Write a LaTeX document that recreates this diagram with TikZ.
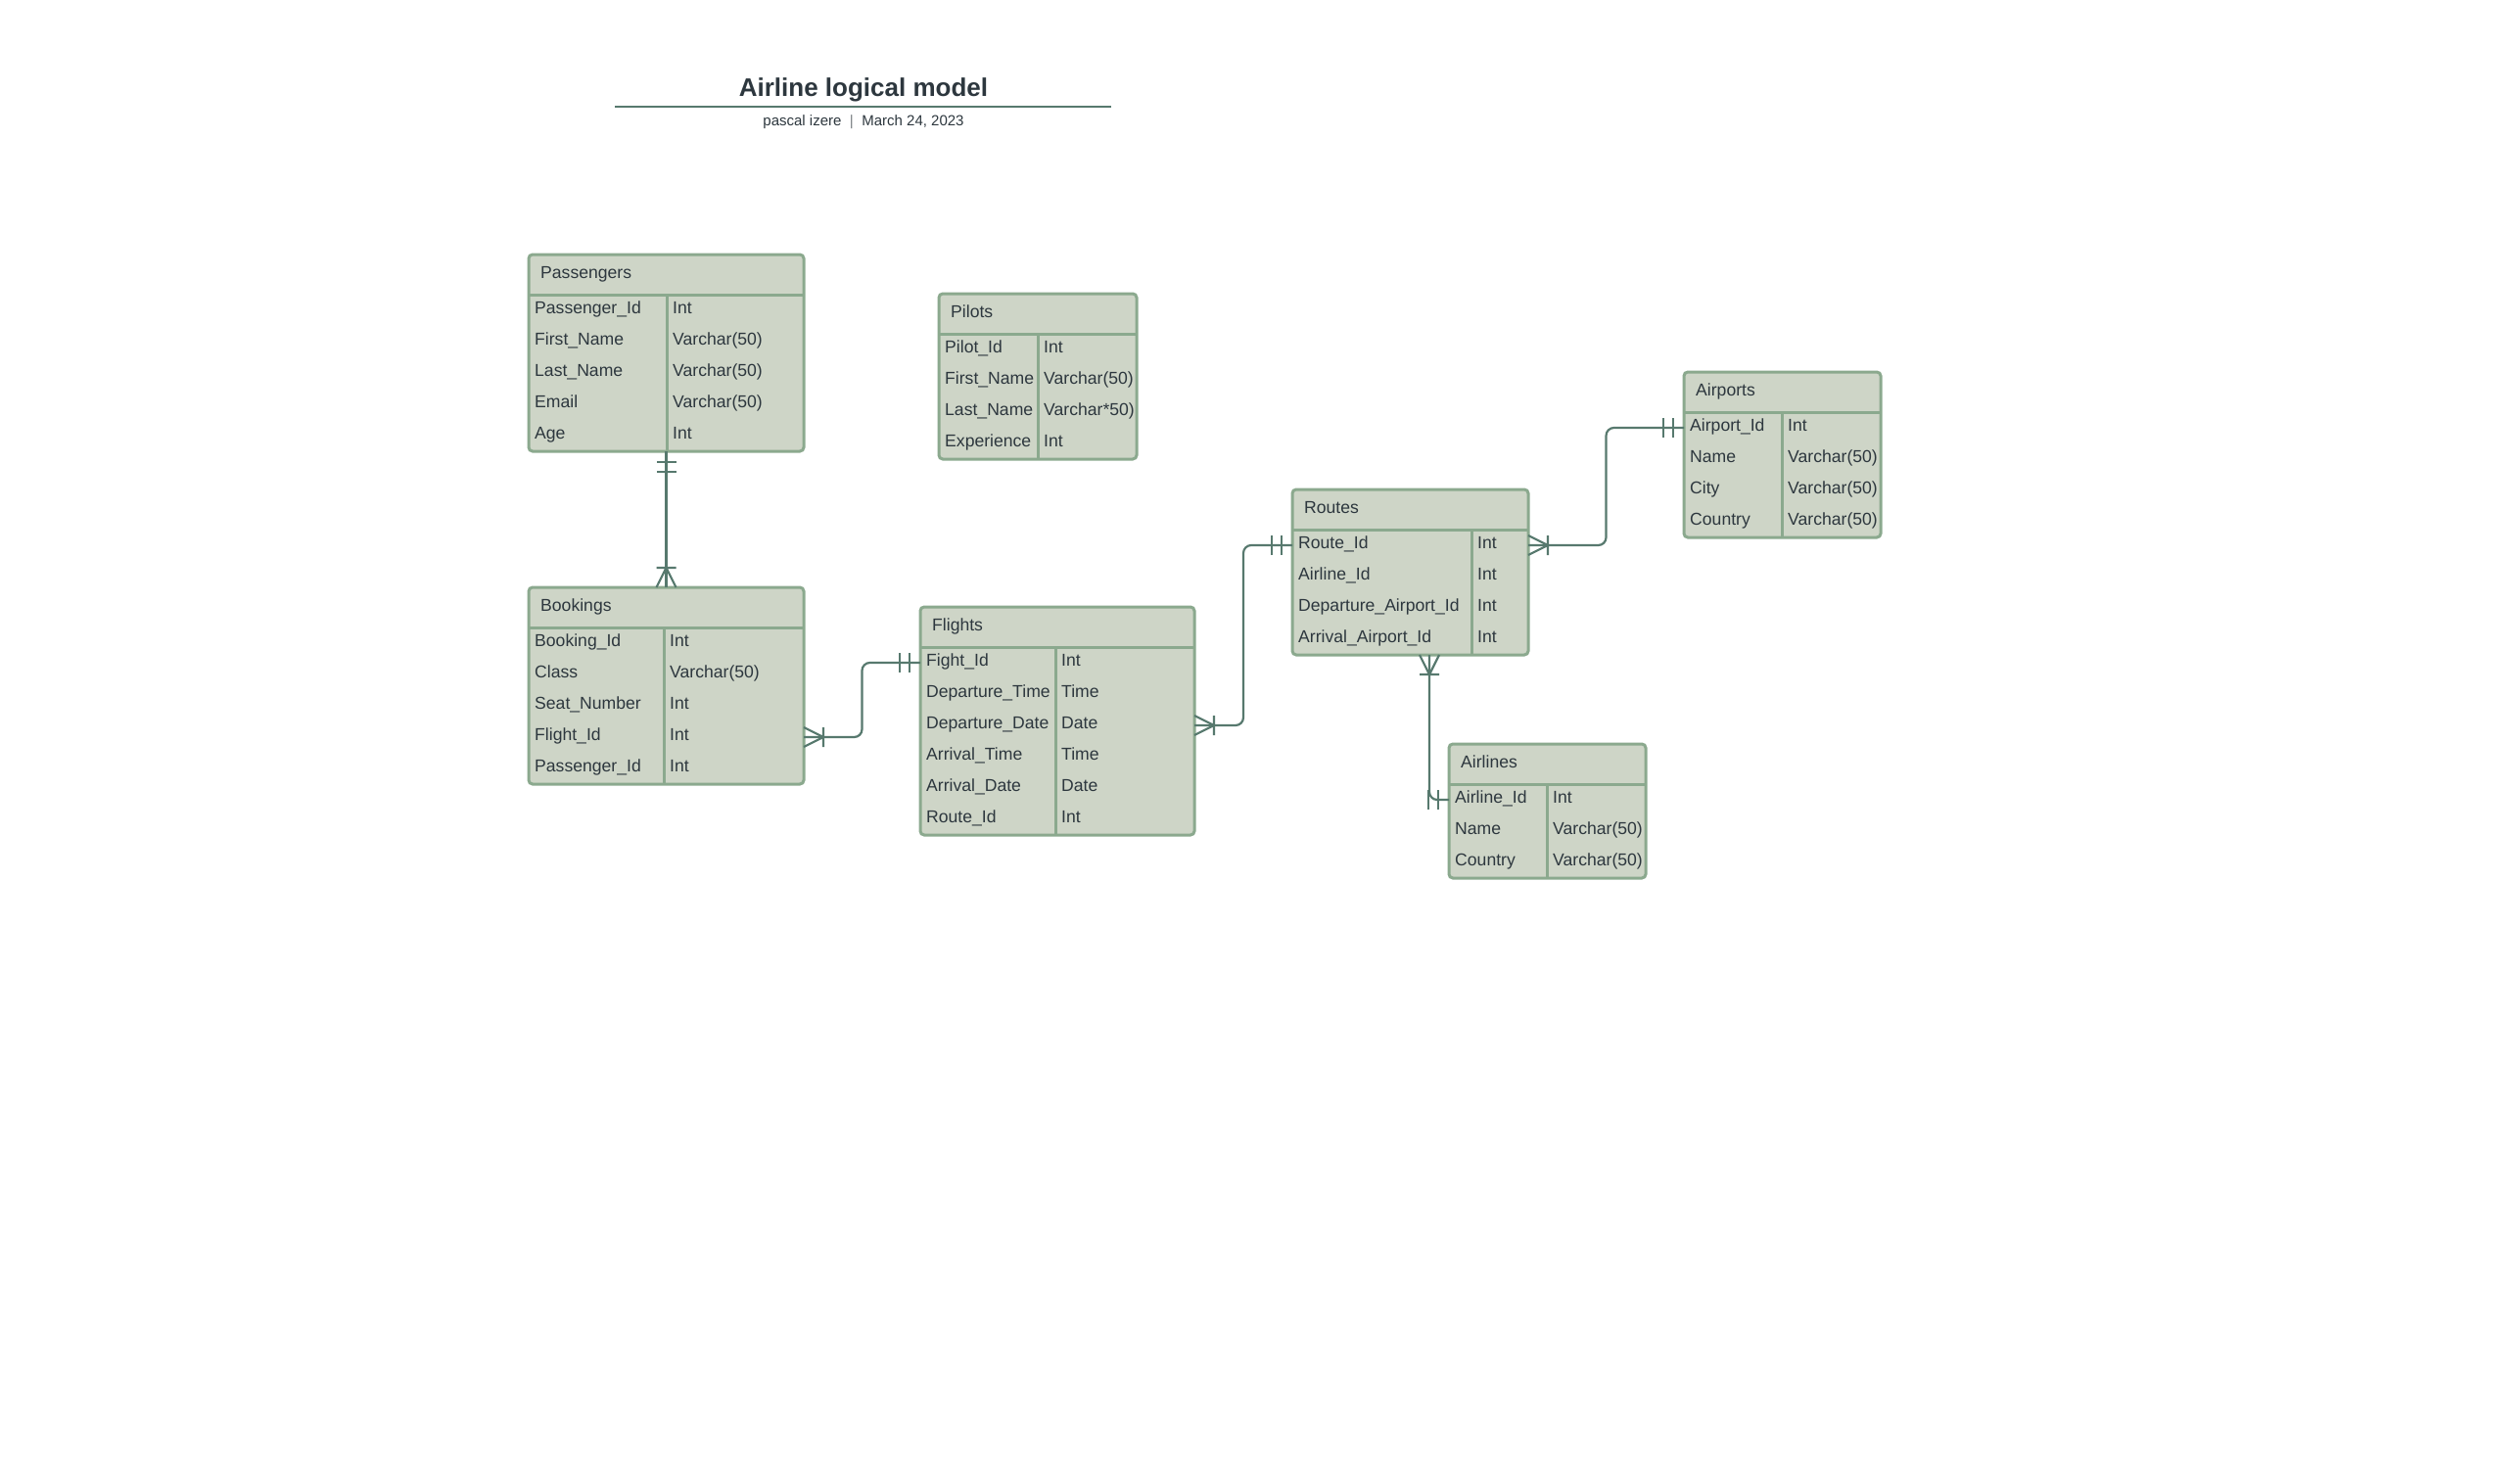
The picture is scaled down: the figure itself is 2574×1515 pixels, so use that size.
\documentclass[tikz,border=0pt]{standalone}
\usepackage{fontspec}
\setmainfont{Liberation Sans}
\usetikzlibrary{calc}

\definecolor{erfill}{HTML}{CED5C7}
\definecolor{erborder}{HTML}{8BA98E}
\definecolor{erlink}{HTML}{57796E}
\definecolor{ertext}{HTML}{2D373E}
\definecolor{sepgrey}{HTML}{7A7F82}

\tikzset{
  erbox/.style={draw=erborder, fill=erfill, line width=3pt, rounded corners=4pt,
                inner sep=0pt, outer sep=0pt},
  erline/.style={draw=erborder, line width=3pt},
  ertxt/.style={inner sep=0pt, text=ertext, font=\fontsize{17.6}{21}\selectfont},
  conn/.style={draw=erlink, line width=2.2pt},
  link/.style={conn, rounded corners=8pt},
  % two bars: exactly one
  pics/onlyone/.style={code={\draw[conn] (11,-10) -- (11,10) (21,-10) -- (21,10);}},
  % crow's foot with bar: one or many
  pics/manyone/.style={code={\draw[conn] (0,-10) -- (20,0) -- (0,10) (20,-10) -- (20,10);}},
}

% #1 id, #2 left, #3 top, #4 width, #5 key column width, #6 rows, #7 title, #8 key/type list
\newcommand\ertable[8]{%
  \pgfmathsetmacro\erh{41+32*#6}%
  \node[erbox, minimum width=#4pt, minimum height=\erh pt, anchor=north west] (#1) at (#2,#3) {};
  \draw[erline] ($(#1.north west)+(0,41)$) -- ($(#1.north east)+(0,41)$);
  \draw[erline] ($(#1.north west)+(#5,41)$) -- ($(#1.south west)+(#5,0)$);
  \node[ertxt, anchor=base west] (#1-title) at ($(#1.north west)+(12,24)$) {#7};
  \foreach \k/\v [count=\i] in {#8} {
    \coordinate (#1-r\i) at ($(#1.north west)+(0,{41+32*\i-16})$);
    \node[ertxt, anchor=base west] (#1-k\i) at ($(#1-r\i)+(6,3.5)$) {\k};
    \node[ertxt, anchor=base west] (#1-v\i) at ($(#1-r\i)+(#5+6,3.5)$) {\v};
  }%
}

\begin{document}
\begin{tikzpicture}[x=1pt, y=-1pt]
  \fill[white] (0,0) rectangle (2574,1515);
  \useasboundingbox (0,0) rectangle (2574,1515);

  % heading
  \node[inner sep=0pt, text=ertext, font=\fontsize{26}{30}\bfseries, anchor=base] (ttl) at (882,98.5) {Airline logical model};
  \draw[draw=erlink, line width=2.5pt] (628,109) -- (1135,109);
  \node[inner sep=0pt, text=ertext, font=\fontsize{15}{18}\selectfont, anchor=base] (sub) at (882,128.5)
    {pascal izere\hspace{8.5pt}\textcolor{sepgrey}{|}\hspace{8.5pt}March 24, 2023};

  % entities
  \ertable{pass}{540}{260}{281}{141}{5}{Passengers}{Passenger\_Id/Int, First\_Name/Varchar(50), Last\_Name/Varchar(50), Email/Varchar(50), Age/Int}
  \ertable{pil}{959}{300}{202}{101}{4}{Pilots}{Pilot\_Id/Int, First\_Name/Varchar(50), Last\_Name/Varchar*50), Experience/Int}
  \ertable{book}{540}{600}{281}{138}{5}{Bookings}{Booking\_Id/Int, Class/Varchar(50), Seat\_Number/Int, Flight\_Id/Int, Passenger\_Id/Int}
  \ertable{fl}{940}{620}{280}{138}{6}{Flights}{Fight\_Id/Int, Departure\_Time/Time, Departure\_Date/Date, Arrival\_Time/Time, Arrival\_Date/Date, Route\_Id/Int}
  \ertable{route}{1320}{500}{241}{183}{4}{Routes}{Route\_Id/Int, Airline\_Id/Int, Departure\_Airport\_Id/Int, Arrival\_Airport\_Id/Int}
  \ertable{airp}{1720}{380}{201}{100}{4}{Airports}{Airport\_Id/Int, Name/Varchar(50), City/Varchar(50), Country/Varchar(50)}
  \ertable{airl}{1480}{760}{201}{100}{3}{Airlines}{Airline\_Id/Int, Name/Varchar(50), Country/Varchar(50)}

  % relationships
  \draw[link] (pass.south) -- (book.north);
  \pic[rotate=-90] at (pass.south) {onlyone};
  \pic[rotate=90] at (book.north) {manyone};

  \coordinate (bkA) at (book.east |- book-r4);
  \coordinate (flA) at (fl.west |- fl-r1);
  \draw[link] (bkA) -| ($(bkA)!0.5!(flA)$) |- (flA);
  \pic at (bkA) {manyone};
  \pic[rotate=180] at (flA) {onlyone};

  \coordinate (flB) at (fl.east |- fl-r3);
  \coordinate (rtA) at (route.west |- route-r1);
  \draw[link] (flB) -| ($(flB)!0.5!(rtA)$) |- (rtA);
  \pic at (flB) {manyone};
  \pic[rotate=180] at (rtA) {onlyone};

  \coordinate (rtB) at (route.east |- route-r1);
  \coordinate (apA) at (airp.west |- airp-r1);
  \draw[link] (rtB) -| ($(rtB)!0.5!(apA)$) |- (apA);
  \pic at (rtB) {manyone};
  \pic[rotate=180] at (apA) {onlyone};

  \coordinate (rtdrop) at ($(route.south)+(19.5,0)$);
  \coordinate (alA) at (airl.west |- airl-r1);
  \draw[link] (rtdrop) |- (alA);
  \pic[rotate=-90] at (rtdrop) {manyone};
  \pic[rotate=180] at (alA) {onlyone};
\end{tikzpicture}
\end{document}
